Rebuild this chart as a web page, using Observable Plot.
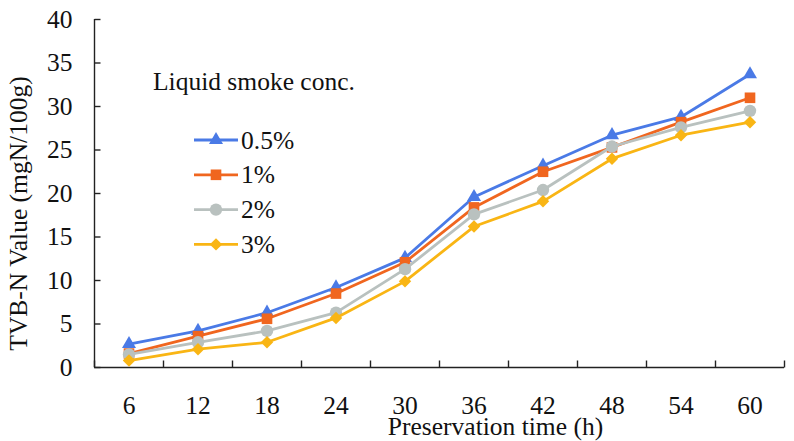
<!DOCTYPE html>
<html>
<head>
<meta charset="utf-8">
<script src="https://cdn.jsdelivr.net/npm/d3@7"></script>
<script src="https://cdn.jsdelivr.net/npm/@observablehq/plot@0.6"></script>
<style>
  html, body { margin: 0; padding: 0; background: #fff; }
  #chart { width: 794px; height: 441px; }
  #chart svg text { font-family: "Liberation Serif", "Times New Roman", serif !important; font-size: 25.5px !important; fill: #111; }
</style>
</head>
<body>
<div id="chart"></div>
<script>
// ---- data ----
const times = [6, 12, 18, 24, 30, 36, 42, 48, 54, 60];
const seriesNames = ["0.5%", "1%", "2%", "3%"];
const v05 = [2.7, 4.2, 6.3, 9.2, 12.6, 19.6, 23.2, 26.7, 28.8, 33.7];
const v1  = [1.6, 3.6, 5.6, 8.5, 12.1, 18.4, 22.5, 25.3, 28.2, 31.0];
const v2  = [1.5, 2.9, 4.2, 6.3, 11.3, 17.6, 20.4, 25.4, 27.6, 29.5];
const v3  = [0.8, 2.1, 2.9, 5.7, 9.9, 16.2, 19.1, 24.0, 26.7, 28.2];
const yTicks = [0, 5, 10, 15, 20, 25, 30, 35, 40];
const xBounds = [3, 9, 15, 21, 27, 33, 39, 45, 51, 57, 63];
const seriesColors = ["#4a7ae6", "#f0661f", "#b9c1bf", "#f9b514"];
const seriesSymbols = ["triangle", "square", "circle", "diamond2"];
const seriesR = [5.2, 6.0, 6.2, 5.6];
const legendTitle = "Liquid smoke conc.";
const xLabel = "Preservation time (h)";
const yLabel = "TVB-N Value (mgN/100g)";

const allValues = [v05, v1, v2, v3];
const rows = [];
seriesNames.forEach((s, si) => times.forEach((t, i) => rows.push({series: s, time: t, value: allValues[si][i]})));

const tickUp = {draw(ctx) { ctx.moveTo(0, 0); ctx.lineTo(0, -7); }};
const tickRight = {draw(ctx) { ctx.moveTo(0, 0); ctx.lineTo(6, 0); }};

const seriesMarks = [];
seriesNames.forEach((s, si) => {
  const d = rows.filter(r => r.series === s);
  seriesMarks.push(Plot.line(d, {x: "time", y: "value", stroke: seriesColors[si], strokeWidth: 2.8}));
  seriesMarks.push(Plot.dot(d, {x: "time", y: "value", symbol: seriesSymbols[si], fill: seriesColors[si], r: seriesR[si], stroke: "none"}));
});

const chart = Plot.plot({
  width: 794,
  height: 441,
  marginLeft: 94,
  marginRight: 10,
  marginTop: 19,
  marginBottom: 74,
  style: {fontFamily: "Liberation Serif", fontSize: "25.5px", color: "#111", background: "#fff"},
  x: {domain: [3, 63]},
  y: {domain: [0, 40]},
  marks: [
    Plot.ruleY([0], {stroke: "#222", strokeWidth: 1.4}),
    Plot.ruleX([3], {stroke: "#222", strokeWidth: 1.4}),
    Plot.dot(xBounds, {x: d => d, y: 0, symbol: tickUp, stroke: "#222", strokeWidth: 1.4, r: 4}),
    Plot.dot(yTicks, {x: 3, y: d => d, symbol: tickRight, stroke: "#222", strokeWidth: 1.4, r: 4}),
    Plot.axisX({ticks: times, tickSize: 0, tickPadding: 28, label: null}),
    Plot.axisY({ticks: yTicks, tickSize: 0, tickPadding: 22, label: null}),
    Plot.text([xLabel], {frameAnchor: "bottom", textAnchor: "middle", lineAnchor: "middle", dx: 56, dy: 59, text: d => d, fill: "#111"}),
    Plot.text([yLabel], {frameAnchor: "left", textAnchor: "middle", lineAnchor: "middle", dx: -76, dy: 20, rotate: -90, text: d => d, fill: "#111"}),
    ...seriesMarks
  ]
});
document.getElementById("chart").appendChild(chart);

// ---- legend (drawn into the same SVG) ----
const svg = d3.select(chart);
const lg = svg.append("g").attr("text-anchor", "start");
lg.append("text").attr("x", 153).attr("y", 90).attr("text-anchor", "start").text(legendTitle);
const symMap = {triangle: d3.symbolTriangle, square: d3.symbolSquare, circle: d3.symbolCircle, diamond2: d3.symbolDiamond2};
seriesNames.forEach((s, i) => {
  const yRow = 140 + i * 34.8;
  lg.append("line").attr("x1", 194).attr("x2", 238).attr("y1", yRow).attr("y2", yRow)
    .attr("stroke", seriesColors[i]).attr("stroke-width", 2.8);
  lg.append("path").attr("transform", `translate(216,${yRow})`)
    .attr("d", d3.symbol(symMap[seriesSymbols[i]], seriesR[i] * seriesR[i] * Math.PI)())
    .attr("fill", seriesColors[i]);
  lg.append("text").attr("x", 241).attr("y", yRow + 8.5).attr("text-anchor", "start").text(s);
});
</script>
</body>
</html>
